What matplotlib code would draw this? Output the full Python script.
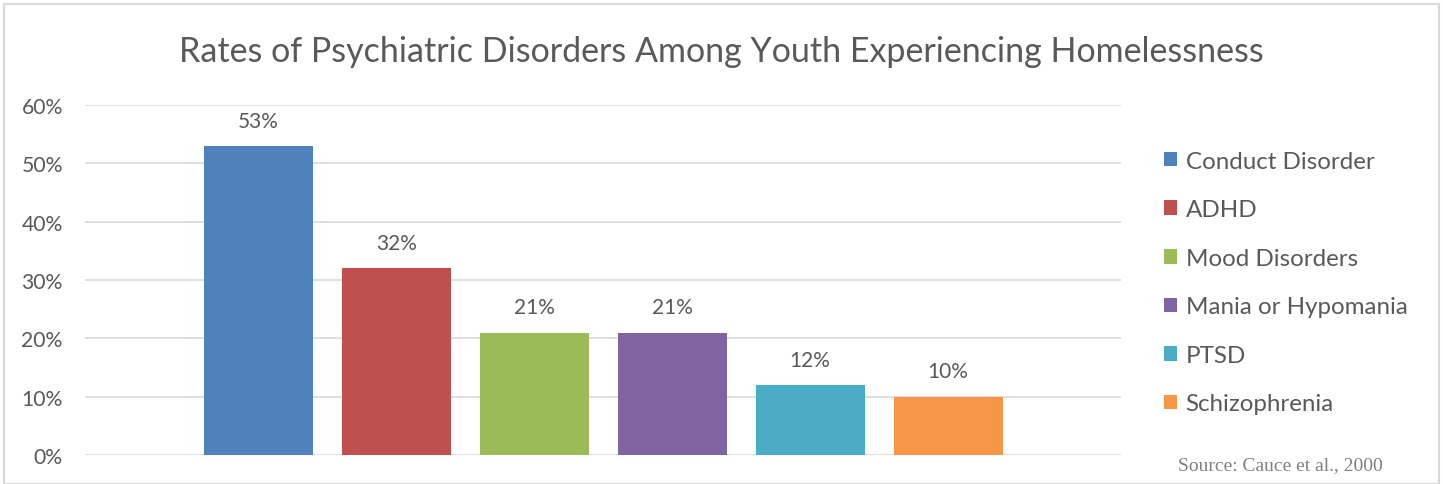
import matplotlib.pyplot as plt
from matplotlib.patches import Rectangle

plt.rcParams['font.family'] = ['Lato', 'DejaVu Sans']

categories = ['Conduct Disorder', 'ADHD', 'Mood Disorders', 'Mania or Hypomania', 'PTSD', 'Schizophrenia']
rates = [53, 32, 21, 21, 12, 10]
colors = ['#4F81BD', '#C0504D', '#9BBB59', '#8064A2', '#4BACC6', '#F79646']
yticks = [0, 10, 20, 30, 40, 50, 60]

text_color = '#595959'

fig = plt.figure(figsize=(14.43, 4.85), dpi=100)
ax = fig.add_axes([0.0589, 0.0598, 0.718, 0.7216])

xs = range(len(categories))
bars = ax.bar(xs, rates, width=0.79, color=colors, label=categories, zorder=3)
for x, v in zip(xs, rates):
    ax.annotate(f'{v}%', (x, v), xytext=(0, 11), textcoords='offset points',
                ha='center', va='bottom', fontsize=15, color=text_color)

ax.set_xlim(-1.257, 6.254)
ax.set_ylim(0, 60)
ax.set_yticks(yticks)
ax.set_yticklabels([f'{t}%' for t in yticks], fontsize=15.2, color=text_color)
ax.set_xticks([])
ax.tick_params(axis='y', length=0, pad=16)
ax.grid(axis='y', color='#D9D9D9', linewidth=1.2, zorder=0)
for s in ax.spines.values():
    s.set_visible(False)

fig.suptitle('Rates of Psychiatric Disorders Among Youth Experiencing Homelessness',
             x=0.5, y=0.925, fontsize=24.5, color=text_color)

leg = fig.legend(handles=bars, labels=categories, loc='upper left',
                 bbox_to_anchor=(0.7915, 0.732), frameon=False, fontsize=17.4,
                 handlelength=0.55, handleheight=0.55, handletextpad=0.35,
                 labelspacing=1.14, labelcolor=text_color)

fig.text(0.8165, 0.03, 'Source: Cauce et al., 2000', family='Liberation Serif',
         fontsize=14, color='#808080')

fig.patches.append(Rectangle((0.003, 0.0), 0.994, 0.99, transform=fig.transFigure,
                             fill=False, edgecolor='#D9D9D9', linewidth=1.5))

fig.savefig('out.png', dpi=100)
